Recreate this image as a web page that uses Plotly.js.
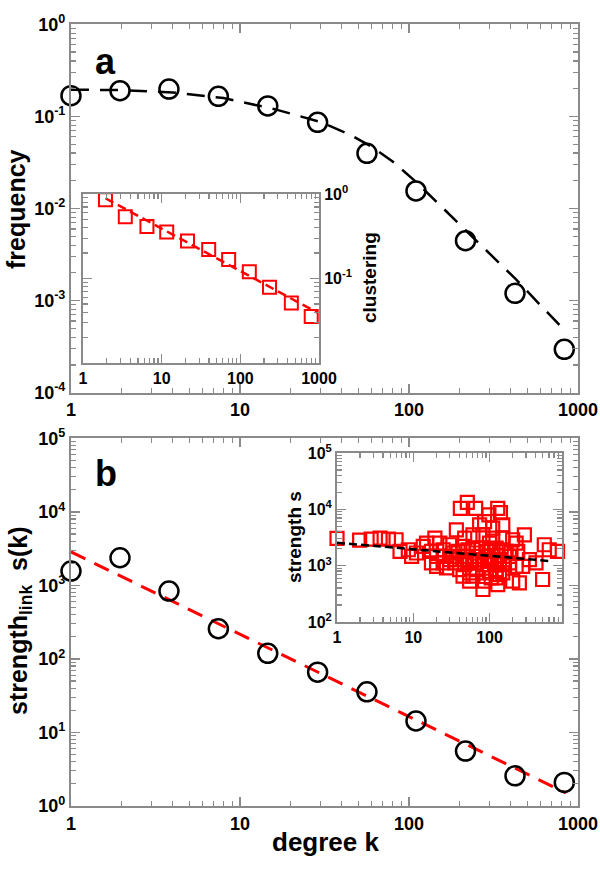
<!DOCTYPE html>
<html><head><meta charset="utf-8">
<script src="https://cdn.plot.ly/plotly-3.0.1.min.js"></script>
<style>html,body{margin:0;padding:0;background:#fff;} #chart{width:600px;height:877px;}</style>
</head><body><div id="chart"></div>
<script>
// ---- Panel a: degree distribution ----
const degreeBins = [1, 1.95, 3.8, 7.45, 14.6, 28.8, 56.4, 110, 216, 424, 830];
const frequency = [0.168, 0.190, 0.198, 0.165, 0.130, 0.0863, 0.0397, 0.0155, 0.00447, 0.0012, 0.000296];
const freqFitK = [1, 2, 4, 8, 16, 30, 45, 60, 80, 110, 150, 220, 300, 430, 600, 830];
const freqFit = [0.195, 0.193, 0.182, 0.158, 0.120, 0.087, 0.063, 0.047, 0.0324, 0.0195, 0.0112, 0.0056, 0.0032, 0.0017, 0.00089, 0.00048];

// ---- Inset a: clustering ----
const clusterK = [1.93, 3.45, 6.5, 11.6, 21.3, 39.6, 71, 130, 235, 445, 796];
const clustering = [0.855, 0.537, 0.412, 0.356, 0.278, 0.221, 0.168, 0.120, 0.0787, 0.0513, 0.0356];
const clusterFitK = [1.93, 950];
const clusterFit = [0.89, 0.0395];

// ---- Panel b: link strength ----
const strengthLink = [1566, 2375, 837, 257, 119, 66, 35.7, 14.3, 5.57, 2.57, 2.09];
const strengthFitK = [1, 850];
const strengthFit = [2850, 1.5];

// ---- Inset b: node strength scatter ----
const scatterK = [
  41.4, 51.1, 65.7, 98, 128, 139, 74.1, 110, 149, 86,
  286, 36.7, 19.2, 47.2, 60.6, 81.9, 110, 149, 201, 223, 522, 606, 778, 14.9, 22.3, 30.1, 13.5,
  1.0, 1.98, 2.8, 3.67, 4.72, 5.94, 6.7, 8.6, 11.0, 9.5,
  17.3, 20.2, 24.6, 31.6, 38.6, 44.9, 52.1, 60.6, 67, 77.9, 90.5, 105, 122, 142, 165, 191, 234,
  17.3, 20.2, 24.6, 30.1, 34.9, 40.6, 47.2, 54.8, 63.7, 74.1, 86, 100, 116, 135, 157, 182, 223, 272, 406,
  49.6, 70.5, 95, 128,
  40.6, 54.8, 67, 81.9, 100, 122, 149,
  44.9, 54.8, 86, 122, 135, 201, 246, 81.9, 128, 496,
  33.2, 100, 182, 333, 27.2, 60.6, 105
];
const scatterS = [
  10400, 13300, 10400, 7940, 10400, 8730, 5290, 4620, 5290, 6050,
  3520, 4320, 3080, 3080, 3520, 3520, 3080, 3080, 2880, 2510, 2350, 1915, 1790, 2510, 2510, 2350, 2190,
  3050, 2830, 2950, 3080, 2950, 2880, 1790, 1915, 1675, 1460,
  1790, 1460, 1915, 1460, 1790, 2190, 1915, 1915, 1675, 2050, 1790, 1915, 2050, 1915, 1790, 1675, 1790,
  1115, 973, 1115, 1275, 1115, 1275, 1040, 1190, 1115, 1275, 1040, 1190, 1115, 1275, 1040, 1115, 973, 973, 1115,
  1460, 1460, 1460, 1500,
  849, 743, 849, 743, 795, 849, 743,
  649, 530, 530, 606, 695, 530, 494, 377, 462, 567,
  1675, 2510, 1460, 1275, 910, 649, 606
];
const scatterFitK = [1, 650];
const scatterFit = [2550, 1200];

// ---- tick labels ----
const xTickVals = [1, 10, 100, 1000];
const xTickText = ['1', '10', '100', '1000'];
const yaTickVals = [1, 0.1, 0.01, 0.001, 0.0001];
const yaTickText = ['10<sup>0</sup>', '10<sup>-1</sup>', '10<sup>-2</sup>', '10<sup>-3</sup>', '10<sup>-4</sup>'];
const ybTickVals = [1, 10, 100, 1000, 10000, 100000];
const ybTickText = ['10<sup>0</sup>', '10<sup>1</sup>', '10<sup>2</sup>', '10<sup>3</sup>', '10<sup>4</sup>', '10<sup>5</sup>'];
const inAYTickVals = [1, 0.1];
const inAYTickText = ['10<sup>0</sup>', '10<sup>-1</sup>'];
const inBXTickVals = [1, 10, 100];
const inBXTickText = ['1', '10', '100'];
const inBYTickVals = [100, 1000, 10000, 100000];
const inBYTickText = ['10<sup>2</sup>', '10<sup>3</sup>', '10<sup>4</sup>', '10<sup>5</sup>'];

const FONT = '"Liberation Sans", Arial, sans-serif';
const AXC = '#8a8a8a';
function axis(o, fs) {
  return Object.assign({
    type: 'log', showline: true, linecolor: AXC, linewidth: 2, mirror: 'ticks',
    ticks: 'inside', ticklen: 9, tickwidth: 1.5, tickcolor: AXC,
    minor: {ticks: 'inside', ticklen: 5, tickwidth: 1.2, tickcolor: AXC, dtick: 'D1'},
    showgrid: false, zeroline: false, tickmode: 'array',
    tickfont: {family: FONT, size: fs || 18, color: '#000', weight: 700}
  }, o);
}

const traces = [
  {x: freqFitK, y: freqFit, xaxis: 'x', yaxis: 'y', mode: 'lines',
   line: {color: '#000', width: 2.5, dash: '18px,11px'}, hoverinfo: 'skip'},
  {x: degreeBins, y: frequency, xaxis: 'x', yaxis: 'y', mode: 'markers', cliponaxis: false,
   marker: {symbol: 'circle-open', size: 19, color: '#000', line: {width: 2.5, color: '#000'}}},
  {x: clusterFitK, y: clusterFit, xaxis: 'x2', yaxis: 'y2', mode: 'lines',
   line: {color: '#ff0000', width: 2.5, dash: '9px,5px'}},
  {x: clusterK, y: clustering, xaxis: 'x2', yaxis: 'y2', mode: 'markers', cliponaxis: false,
   marker: {symbol: 'square-open', size: 13, color: '#ff0000', line: {width: 2, color: '#ff0000'}}},
  {x: strengthFitK, y: strengthFit, xaxis: 'x3', yaxis: 'y3', mode: 'lines',
   line: {color: '#ff0000', width: 3, dash: '16px,10px'}},
  {x: degreeBins, y: strengthLink, xaxis: 'x3', yaxis: 'y3', mode: 'markers', cliponaxis: false,
   marker: {symbol: 'circle-open', size: 19, color: '#000', line: {width: 2.5, color: '#000'}}},
  {x: scatterK, y: scatterS, xaxis: 'x4', yaxis: 'y4', mode: 'markers', cliponaxis: false,
   marker: {symbol: 'square-open', size: 13, color: '#ff0000', line: {width: 2.2, color: '#ff0000'}}},
  {x: scatterFitK, y: scatterFit, xaxis: 'x4', yaxis: 'y4', mode: 'lines',
   line: {color: '#000', width: 2.5, dash: '8px,4px'}}
];

function ann(text, x, y, size, angle) {
  return {text: text, x: x / 600, y: 1 - y / 877, xref: 'paper', yref: 'paper',
    showarrow: false, xanchor: 'center', yanchor: 'middle', textangle: angle || 0,
    font: {family: FONT, size: size, color: '#000', weight: 700}};
}

const layout = {
  width: 600, height: 877, margin: {l: 0, r: 0, t: 0, b: 0},
  paper_bgcolor: '#fff', plot_bgcolor: '#fff', showlegend: false,
  xaxis: axis({domain: [0.1183, 0.9633], range: [0, 3], anchor: 'y', tickvals: xTickVals, ticktext: xTickText}),
  yaxis: axis({domain: [0.5522, 0.9723], range: [-4, 0], anchor: 'x', tickvals: yaTickVals, ticktext: yaTickText}),
  xaxis2: axis({domain: [0.1383, 0.5317], range: [0, 3], anchor: 'y2', tickvals: xTickVals, ticktext: xTickText}, 16),
  yaxis2: axis({domain: [0.5861, 0.7788], range: [-2, 0], anchor: 'x2', side: 'right', tickvals: inAYTickVals, ticktext: inAYTickText}, 16),
  xaxis3: axis({domain: [0.1183, 0.9633], range: [0, 3], anchor: 'y3', tickvals: xTickVals, ticktext: xTickText}),
  yaxis3: axis({domain: [0.0810, 0.5002], range: [0, 5], anchor: 'x3', tickvals: ybTickVals, ticktext: ybTickText}),
  xaxis4: axis({domain: [0.5617, 0.9367], range: [0, 2.95], anchor: 'y4', tickvals: inBXTickVals, ticktext: inBXTickText}, 16),
  yaxis4: axis({domain: [0.2908, 0.4835], range: [2, 5], anchor: 'x4', tickvals: inBYTickVals, ticktext: inBYTickText}, 16),
  annotations: [
    ann('a', 105, 62, 36),
    ann('b', 106, 474, 36),
    ann('frequency', 16, 209, 25, -90),
    ann('clustering', 369, 278, 19, -90),
    ann('strength<sub>link</sub>  s(k)', 20, 621, 25, -90),
    ann('strength s', 294, 537, 19, -90),
    ann('degree k', 325, 842, 26)
  ]
};

Plotly.newPlot('chart', traces, layout, {staticPlot: true});
</script>
</body></html>
